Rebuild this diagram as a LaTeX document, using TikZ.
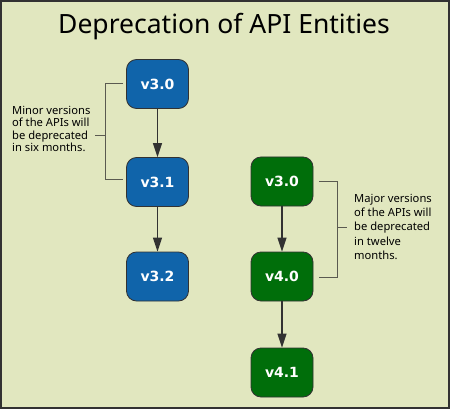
\documentclass[tikz,border=0pt]{standalone}
\usepackage{fontspec}
\setmainfont{Noto Sans}
\newfontfamily\boxfont{DejaVu Sans}
\usetikzlibrary{arrows.meta}
\definecolor{bg}{RGB}{225,231,191}
\definecolor{bluebox}{RGB}{16,100,170}
\definecolor{greenbox}{RGB}{0,110,10}
\definecolor{frame}{RGB}{50,50,50}
\definecolor{brk}{RGB}{90,90,80}
\tikzset{
  ver/.style={draw=frame, line width=0.8pt, rounded corners=10pt, minimum width=62pt, minimum height=49pt, inner sep=0pt, text=white, font=\boxfont\bfseries\fontsize{14}{16}\selectfont},
  bluev/.style={ver, fill=bluebox},
  greenv/.style={ver, fill=greenbox},
  arr/.style={draw=frame, line width=1.4pt, -{Triangle[length=14pt,width=9pt]}},
  bracket/.style={draw=brk, line width=0.9pt},
  note/.style={align=left, anchor=north west, inner sep=0pt, font=\fontsize{11.2}{12.5}\selectfont}
}
\begin{document}
\begin{tikzpicture}[x=1pt,y=-1pt]
\useasboundingbox (0,0) rectangle (450,409);
\fill[bg] (0,0) rectangle (450,409);
\draw[frame, line width=2pt] (1,1) rectangle (449,408);
\node[font=\fontsize{26.5}{30}\selectfont] (title) at (224,27) {Deprecation of API Entities};
\node[bluev] (b30) at (157.5,84) {v3.0};
\node[bluev] (b31) at (157.5,182) {v3.1};
\node[bluev] (b32) at (157.5,276.5) {v3.2};
\node[greenv] (g30) at (282,181.5) {v3.0};
\node[greenv] (g40) at (282,276.5) {v4.0};
\node[greenv] (g41) at (282,372.5) {v4.1};
\draw[arr] (b30) -- (b31);
\draw[arr] (b31) -- (b32);
\draw[arr] (g30) -- (g40);
\draw[arr] (g40) -- (g41);
% left bracket
\coordinate (lt) at (105,83);
\coordinate (lb) at (105,179);
\coordinate (lm) at (105,135);
\coordinate (lmo) at (95,135);
\draw[bracket] (b30.west |- lt) ++(-3,0) -- (lt) -- (lb) -- ([xshift=-3pt]b31.west |- lb);
\draw[bracket] (lm) -- (lmo);
\node[note] (lnote) at (12,106) {Minor versions\\of the APIs will\\be deprecated\\in six months.};
% right bracket
\coordinate (rt) at (337,181);
\coordinate (rb) at (337,277);
\coordinate (rm) at (337,227);
\coordinate (rmo) at (347,227);
\draw[bracket] ([xshift=6pt]g30.east |- rt) -- (rt) -- (rb) -- ([xshift=6pt]g40.east |- rb);
\draw[bracket] (rm) -- (rmo);
\node[note, font=\fontsize{11.2}{14.2}\selectfont] (rnote) at (354,194) {Major versions\\of the APIs will\\be deprecated\\in twelve\\months.};
\end{tikzpicture}
\end{document}
